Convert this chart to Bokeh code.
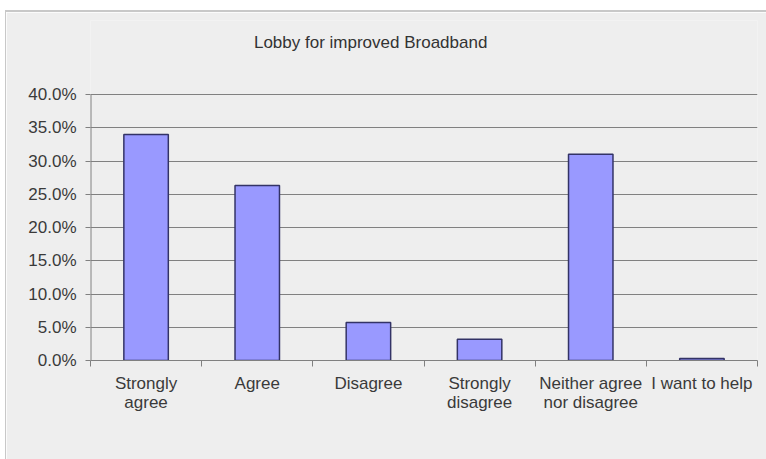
from bokeh.plotting import figure
from bokeh.models import (ColumnDataSource, FixedTicker, NumeralTickFormatter,
                          Range1d, Label, Spacer)
from bokeh.layouts import column, row
from bokeh.embed import file_html
from bokeh.resources import INLINE

# ---- data ----
categories = ["Strongly agree", "Agree", "Disagree", "Strongly disagree",
              "Neither agree nor disagree", "I want to help"]
tick_labels = ["Strongly\nagree", "Agree", "Disagree", "Strongly\ndisagree",
               "Neither agree\nnor disagree", "I want to help"]
values = [0.340, 0.263, 0.057, 0.032, 0.310, 0.003]
y_ticks = [0.0, 0.05, 0.10, 0.15, 0.20, 0.25, 0.30, 0.35, 0.40]
title_text = "Lobby for improved Broadband"

FONT = "Liberation Sans"
BG = "#EEEEEE"
TXT = "#3a3a3a"
EDGE = "#C8C8C8"
AX = "#808080"

n = len(categories)
centers = [i + 0.5 for i in range(n)]
src = ColumnDataSource(dict(x=centers, top=values, cat=categories))

# frame is extended upward (same fill as border) so the title can sit inside it
FRAME_H = 340          # pixel height of the frame
AXIS_H = 266           # pixel height of the 0..40% axis
y_top = y_ticks[-1] * FRAME_H / AXIS_H

p = figure(width=760, height=447, output_backend="svg", toolbar_location=None,
           x_range=Range1d(0, n), y_range=Range1d(0, y_top),
           min_border_left=84, min_border_right=9,
           min_border_top=8, min_border_bottom=99)
p.background_fill_color = BG
p.border_fill_color = BG
p.outline_line_color = None

p.vbar(x="x", top="top", width=0.4, source=src,
       fill_color="#9999FF", line_color="#333366", line_width=1.5)

# x axis
xa = p.xaxis[0]
xa.ticker = FixedTicker(ticks=centers, minor_ticks=list(range(n + 1)))
xa.major_label_overrides = {c: t for c, t in zip(centers, tick_labels)}
xa.major_tick_out = 0
xa.major_tick_in = 0
xa.minor_tick_out = 6
xa.minor_tick_in = 0
xa.minor_tick_line_color = AX
xa.axis_line_color = AX
xa.major_label_standoff = 7
xa.major_label_text_font = FONT
xa.major_label_text_font_size = "17px"
xa.major_label_text_line_height = 1.05
xa.major_label_text_color = TXT

# y axis (line drawn only over the 0..40% span)
ya = p.yaxis[0]
ya.ticker = FixedTicker(ticks=y_ticks)
ya.formatter = NumeralTickFormatter(format="0.0%")
ya.major_tick_out = 5
ya.major_tick_in = 0
ya.minor_tick_line_color = None
ya.major_tick_line_color = AX
ya.axis_line_color = None
ya.major_label_standoff = 9
ya.major_label_text_font = FONT
ya.major_label_text_font_size = "17px"
ya.major_label_text_color = TXT
p.segment(x0=[0], y0=[y_ticks[0]], x1=[0], y1=[y_ticks[-1]],
          line_color=AX, line_width=2)

p.xgrid.grid_line_color = None
p.ygrid.ticker = FixedTicker(ticks=y_ticks)
p.ygrid.grid_line_color = AX
p.ygrid.grid_line_width = 1.2

title = Label(x=2.52, y=y_ticks[-1], y_offset=52,
              text=title_text, text_align="center", text_baseline="middle",
              text_font=FONT, text_font_size="17px", text_color="#333333")
p.add_layout(title)

layout = row(
    Spacer(width=5, height=459),
    column(
        Spacer(width=761, height=10),
        Spacer(width=761, height=2, styles={"background-color": EDGE}),
        row(Spacer(width=1, height=447, styles={"background-color": EDGE}), p),
    ),
)

open("out.html", "w").write(file_html(layout, INLINE))
